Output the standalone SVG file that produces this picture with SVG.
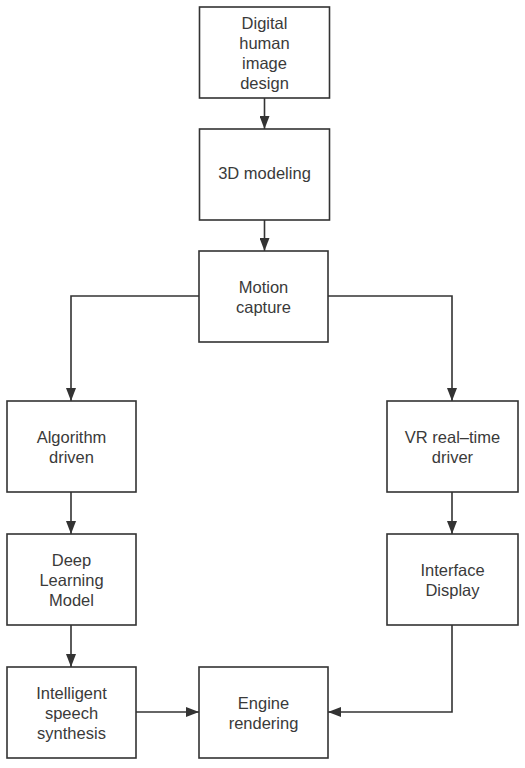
<svg xmlns="http://www.w3.org/2000/svg" width="525" height="768" viewBox="0 0 525 768">
<style>
.box{fill:#fff;stroke:#333;stroke-width:1.6}
.t{font-family:"Liberation Sans",Arial,sans-serif;font-size:16.5px;fill:#3a3a3a;text-anchor:middle}
.c{fill:none;stroke:#333;stroke-width:1.6}
</style>
<defs>
<marker id="ah" markerWidth="13" markerHeight="10" refX="13" refY="5" orient="auto" markerUnits="userSpaceOnUse">
<path d="M0,0 L13,5 L0,10 Z" fill="#333"/>
</marker>
</defs>
<rect width="525" height="768" fill="#fff"/>
<g id="connectors">
<path class="c" d="M264.5,98 V129" marker-end="url(#ah)"/>
<path class="c" d="M264.5,220 V251" marker-end="url(#ah)"/>
<path class="c" d="M199,296 H71 V401" marker-end="url(#ah)"/>
<path class="c" d="M328,296 H452 V401" marker-end="url(#ah)"/>
<path class="c" d="M71,492 V534" marker-end="url(#ah)"/>
<path class="c" d="M452,492 V534" marker-end="url(#ah)"/>
<path class="c" d="M71,625 V667" marker-end="url(#ah)"/>
<path class="c" d="M136,712 H199" marker-end="url(#ah)"/>
<path class="c" d="M452,625 V712 H328" marker-end="url(#ah)"/>
</g>
<g id="n1">
<rect class="box" x="199.5" y="7" width="130" height="91"/>
<text class="t" x="264.5" y="29">Digital</text>
<text class="t" x="264.5" y="49">human</text>
<text class="t" x="264.5" y="69">image</text>
<text class="t" x="264.5" y="89">design</text>
</g>
<g id="n2">
<rect class="box" x="199.5" y="129" width="130" height="91"/>
<text class="t" x="264.5" y="179">3D modeling</text>
</g>
<g id="n3">
<rect class="box" x="199" y="251" width="129" height="91"/>
<text class="t" x="263.5" y="293">Motion</text>
<text class="t" x="263.5" y="313">capture</text>
</g>
<g id="n4">
<rect class="box" x="7" y="401" width="129" height="91"/>
<text class="t" x="71.5" y="443">Algorithm</text>
<text class="t" x="71.5" y="463">driven</text>
</g>
<g id="n5">
<rect class="box" x="387" y="401" width="131" height="91"/>
<text class="t" x="452.5" y="443">VR real–time</text>
<text class="t" x="452.5" y="463">driver</text>
</g>
<g id="n6">
<rect class="box" x="7" y="534" width="129" height="91"/>
<text class="t" x="71.5" y="566">Deep</text>
<text class="t" x="71.5" y="586">Learning</text>
<text class="t" x="71.5" y="606">Model</text>
</g>
<g id="n7">
<rect class="box" x="387" y="534" width="131" height="91"/>
<text class="t" x="452.5" y="576">Interface</text>
<text class="t" x="452.5" y="596">Display</text>
</g>
<g id="n8">
<rect class="box" x="7" y="667" width="129" height="91"/>
<text class="t" x="71.5" y="699">Intelligent</text>
<text class="t" x="71.5" y="719">speech</text>
<text class="t" x="71.5" y="739">synthesis</text>
</g>
<g id="n9">
<rect class="box" x="199" y="667" width="129" height="91"/>
<text class="t" x="263.5" y="709">Engine</text>
<text class="t" x="263.5" y="729">rendering</text>
</g>
</svg>
